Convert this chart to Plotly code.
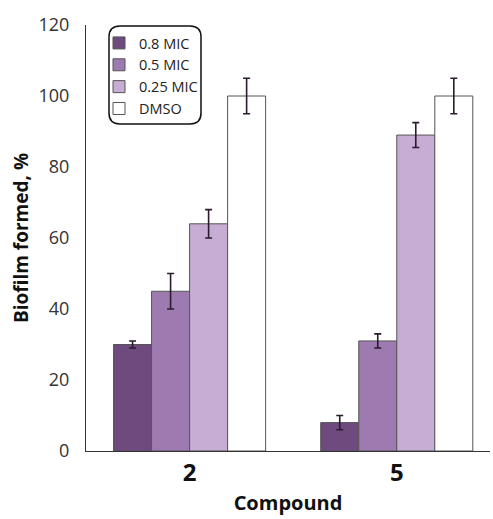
import plotly.graph_objects as go

compounds = ["2", "5"]
series_names = ["0.8 MIC", "0.5 MIC", "0.25 MIC", "DMSO"]
values_08 = [30, 8]
values_05 = [45, 31]
values_025 = [64, 89]
values_dmso = [100, 100]
err_08 = [1, 2]
err_05 = [5, 2]
err_025 = [4, 3.5]
err_dmso = [5, 5]
colors = ["#6e4a7e", "#9d7bb1", "#c7add4", "#ffffff"]

W, H = 493, 519
L, R, T, B = 86, 3, 25, 68
pw, ph = W - L - R, H - T - B

fig = go.Figure()
for name, vals, errs, col in zip(series_names,
                                 [values_08, values_05, values_025, values_dmso],
                                 [err_08, err_05, err_025, err_dmso], colors):
    fig.add_trace(go.Bar(
        x=compounds, y=vals, name=name,
        marker=dict(color=col, line=dict(color="#555555", width=1)),
        error_y=dict(type="data", array=errs, visible=True,
                     color="#2b1b2e", thickness=1.6, width=3.5),
    ))

def px2paper(x, y):
    return (x - L) / pw, (H - B - y) / ph

x0, y0 = px2paper(109, 26)
x1, y1 = px2paper(201, 124)
rx, ry = 11 / pw, 11 / ph
path = (f"M {x0+rx},{y0} L {x1-rx},{y0} Q {x1},{y0} {x1},{y0-ry} "
        f"L {x1},{y1+ry} Q {x1},{y1} {x1-rx},{y1} L {x0+rx},{y1} "
        f"Q {x0},{y1} {x0},{y1+ry} L {x0},{y0-ry} Q {x0},{y0} {x0+rx},{y0} Z")

lx, ly = px2paper(99, 27)

fig.update_layout(
    width=W, height=H,
    margin=dict(l=L, r=R, t=T, b=B, pad=0),
    paper_bgcolor="white", plot_bgcolor="white",
    barmode="group", bargap=0.266, bargroupgap=0,
    font=dict(family="Open Sans", color="#222222"),
    shapes=[dict(type="path", path=path, xref="paper", yref="paper",
                 line=dict(color="#111111", width=1.5), fillcolor="rgba(0,0,0,0)")],
    legend=dict(x=lx, y=ly, xanchor="left", yanchor="top",
                bgcolor="rgba(0,0,0,0)", borderwidth=0,
                font=dict(family="Open Sans", size=14.5, color="#222222"),
                tracegroupgap=0, itemwidth=30),
    xaxis=dict(range=[-0.5, 1.45], showline=True, linecolor="#333333", linewidth=1.2,
               ticks="", showgrid=False, zeroline=False,
               tickfont=dict(family="Open Sans", size=24, color="#111111", weight="bold"),
               title=dict(text="<b>Compound</b>", standoff=9,
                          font=dict(family="Open Sans", size=20, color="#111111"))),
    yaxis=dict(range=[0, 120], dtick=20, showline=True, linecolor="#333333", linewidth=1.2,
               ticks="", showgrid=False, zeroline=False, ticklabelstandoff=12,
               tickfont=dict(family="Open Sans", size=18, color="#333333"),
               title=dict(text="<b>Biofilm formed, %</b>", standoff=4,
                          font=dict(family="Open Sans", size=19, color="#111111"))),
)

fig.write_html("out.html")
